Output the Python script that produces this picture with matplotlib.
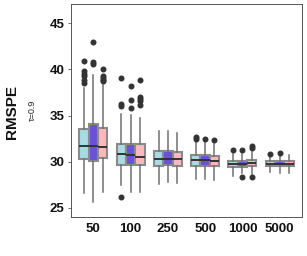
import matplotlib
matplotlib.use("Agg")
import matplotlib.pyplot as plt

plt.rcParams["font.family"] = ["Liberation Sans", "DejaVu Sans"]

categories = ["50", "100", "250", "500", "1000", "5000"]
series_colors = ["#A8DCE4", "#6A52D6", "#FFB7BF"]

# per category, per series (light blue, purple, pink)
q1 = [[30.34, 30.02, 30.45], [29.69, 29.69, 29.69], [29.58, 29.69, 29.55],
      [29.51, 29.51, 29.51], [29.37, 29.40, 29.48], [29.51, 29.51, 29.51]]
med = [[31.71, 31.71, 31.61], [30.81, 30.74, 30.52], [30.34, 30.34, 30.27],
       [30.16, 30.13, 30.02], [29.73, 29.73, 29.84], [29.80, 29.77, 29.80]]
q3 = [[33.59, 34.13, 33.70], [31.90, 31.97, 31.90], [31.17, 31.17, 31.06],
      [30.67, 30.67, 30.63], [30.09, 30.09, 30.16], [30.05, 30.02, 30.02]]
wlo = [[26.62, 25.65, 26.73], [27.45, 26.66, 26.73], [27.56, 27.78, 27.64],
       [28.14, 28.10, 28.00], [28.43, 28.72, 28.65], [28.83, 28.79, 28.79]]
whi = [[38.03, 39.44, 38.29], [35.22, 35.04, 34.78], [33.30, 33.30, 33.16],
       [32.33, 32.15, 31.90], [30.88, 30.88, 31.06], [30.52, 30.63, 30.70]]
fliers = [
    [[40.9, 39.8, 39.55, 39.3, 38.85, 38.5], [42.94, 40.81, 40.63], [40.09, 39.26, 39.08, 38.9, 38.7]],
    [[39.08, 36.23, 36.0, 26.16], [38.18, 36.73, 35.87], [38.83, 37.02, 36.8, 36.59, 36.12]],
    [[], [], []],
    [[32.69, 32.5], [32.5], [32.4]],
    [[31.32], [31.32, 28.36], [31.68, 31.5, 28.36]],
    [[30.88], [30.96], []],
]
yticks = [25, 30, 35, 40, 45]

fig = plt.figure(figsize=(3.07, 2.56), dpi=100)
ax = fig.add_axes([71/307, 1 - 217/256, (302-71)/307, (217-4)/256])

width = 0.25
offsets = [-0.25, 0.0, 0.25]
for i in range(len(categories)):
    for j in range(3):
        st = dict(med=med[i][j], q1=q1[i][j], q3=q3[i][j],
                  whislo=wlo[i][j], whishi=whi[i][j], fliers=fliers[i][j])
        ax.bxp([st], positions=[i + offsets[j]], widths=width,
               patch_artist=True, showcaps=False,
               boxprops=dict(facecolor=series_colors[j], edgecolor="#8a8a8a", linewidth=1.5),
               medianprops=dict(color="#333333", linewidth=1.4),
               whiskerprops=dict(color="#707070", linewidth=1.1),
               flierprops=dict(marker="o", markerfacecolor="#333333",
                               markeredgecolor="#333333", markersize=3.3))

ax.set_xlim(-0.6, len(categories) - 0.4)
ax.set_ylim(24.0, 47.1)
ax.set_xticks(range(len(categories)))
ax.set_xticklabels(categories, fontweight="bold", fontsize=9.5, color="#111111")
ax.set_yticks(yticks)
ax.set_yticklabels([str(t) for t in yticks], fontweight="bold", fontsize=9.5, color="#111111")
ax.tick_params(axis="x", length=0, pad=4)
ax.tick_params(axis="y", length=2.5, width=0.6, color="#555555", pad=2)
for s in ax.spines.values():
    s.set_color("#555555")
    s.set_linewidth(0.7)

fig.text(12/307, 1 - 112/256, "RMSPE", rotation=90, ha="center", va="center",
         fontweight="bold", fontsize=11, color="#111111")
fig.text(32/307, 1 - 110/256, "τ=0.9", rotation=90, ha="center", va="center",
         fontsize=6.5, color="#222222")

fig.savefig("out.png", dpi=100)
